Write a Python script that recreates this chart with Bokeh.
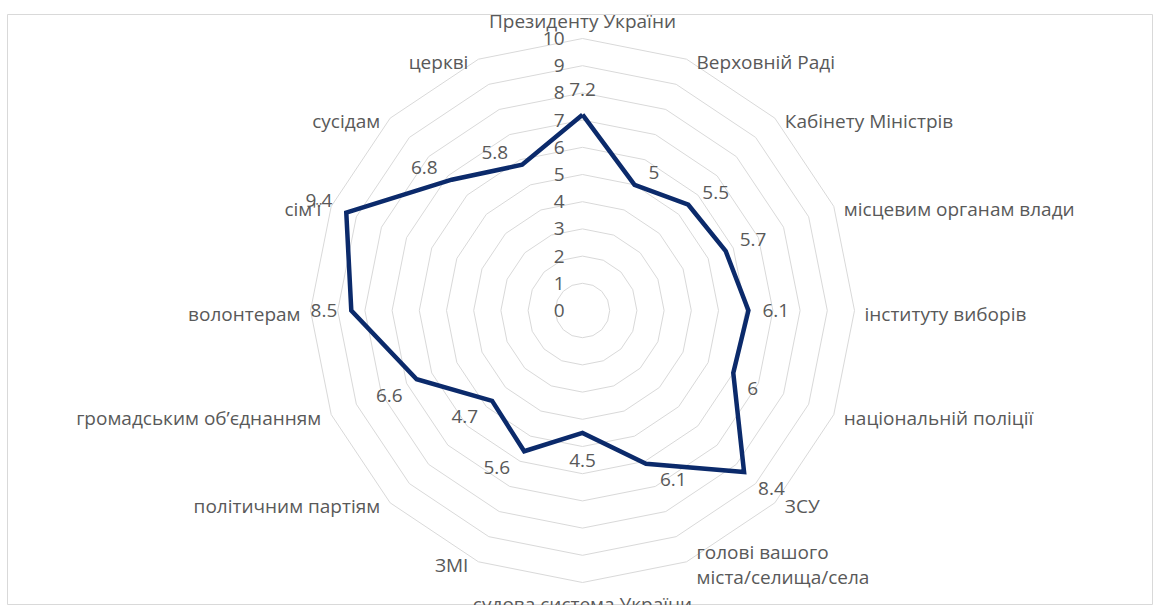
import numpy as np
from bokeh.plotting import figure
from bokeh.models import Range1d, ColumnDataSource
from bokeh.core.properties import value
from bokeh.embed import file_html
from bokeh.resources import INLINE

categories = [
    "Президенту України", "Верховній Раді", "Кабінету Міністрів",
    "місцевим органам влади", "інституту виборів", "національній поліції",
    "ЗСУ", "голові вашого\nміста/селища/села", "судова система України",
    "ЗМІ", "політичним партіям", "громадським об’єднанням",
    "волонтерам", "сім'ї", "сусідам", "церкві",
]
values = [7.2, 5, 5.5, 5.7, 6.1, 6, 8.4, 6.1, 4.5, 5.6, 4.7, 6.6, 8.5, 9.4, 6.8, 5.8]
value_labels = ["7.2", "5", "5.5", "5.7", "6.1", "6", "8.4", "6.1", "4.5", "5.6", "4.7", "6.6", "8.5", "9.4", "6.8", "5.8"]
ticks = list(range(0, 11))

FONT = "Open Sans"
TEXT_COLOR = "#595959"
GRID_COLOR = "#D9D9D9"
LINE_COLOR = "#0B2A6B"
FS = "19px"

S = 27.2  # pixels per unit
W, H = 1153, 605
LEFT, TOP = 7, 14
cx, cy = 582, 310  # centre of the radar in figure pixels

p = figure(width=W, height=H, output_backend="svg", toolbar_location=None,
           x_range=Range1d(LEFT - cx, W - cx), y_range=Range1d(cy - H, cy - TOP),
           min_border_left=LEFT, min_border_right=0, min_border_top=TOP, min_border_bottom=0)
p.axis.visible = False
p.grid.visible = False
p.outline_line_color = GRID_COLOR
p.outline_line_width = 1
p.background_fill_color = "white"
p.border_fill_color = "white"

n = len(categories)
theta = np.arange(n) * 2 * np.pi / n
sn, cs = np.sin(theta), np.cos(theta)

# grid rings
ring_xs, ring_ys = [], []
for k in ticks[1:]:
    ring_xs.append(list(k * S * sn) + [k * S * sn[0]])
    ring_ys.append(list(k * S * cs) + [k * S * cs[0]])
p.multi_line(ring_xs, ring_ys, line_color=GRID_COLOR, line_width=1)

# tick labels
p.text(x=[-18] * len(ticks), y=[t * S for t in ticks], text=[str(t) for t in ticks],
       text_align="right", text_baseline="middle", text_font=value(FONT),
       text_font_size=FS, text_color=TEXT_COLOR)

# data line
v = np.array(values)
px = v * S * sn
py = v * S * cs
p.line(list(px) + [px[0]], list(py) + [py[0]], line_color=LINE_COLOR, line_width=4.5,
       line_join="miter")

# data labels
lx, ly, la = [], [], []
for i in range(n):
    s, c = sn[i], cs[i]
    if abs(s) < 1e-6:
        lx.append(px[i]); la.append("center")
        ly.append(py[i] + (25 if c > 0 else -28))
    else:
        lx.append(px[i] + (14 if s > 0 else -14))
        la.append("left" if s > 0 else "right")
        ly.append(py[i] + (0 if abs(c) < 1e-6 else (12 if c > 0 else -16)))
src = ColumnDataSource(dict(x=lx, y=ly, t=value_labels, a=la))
p.text(x="x", y="y", text="t", text_align="a", source=src, text_baseline="middle",
       text_font=value(FONT), text_font_size=FS, text_color=TEXT_COLOR)

# category labels
R = 10 * S
cx_l, cy_l, ca = [], [], []
for i in range(n):
    s, c = sn[i], cs[i]
    vx, vy = R * s, R * c
    if abs(s) < 1e-6:
        cx_l.append(vx); ca.append("center")
        cy_l.append(vy + (18 if c > 0 else -21))
    else:
        cx_l.append(vx + (10 if s > 0 else -10))
        ca.append("left" if s > 0 else "right")
        cy_l.append(vy - 3)
src2 = ColumnDataSource(dict(x=cx_l, y=cy_l, t=categories, a=ca))
p.text(x="x", y="y", text="t", text_align="a", source=src2, text_baseline="middle",
       text_font=value(FONT), text_font_size=FS, text_color=TEXT_COLOR,
       text_line_height=0.97)

open("out.html", "w").write(file_html(p, INLINE))
